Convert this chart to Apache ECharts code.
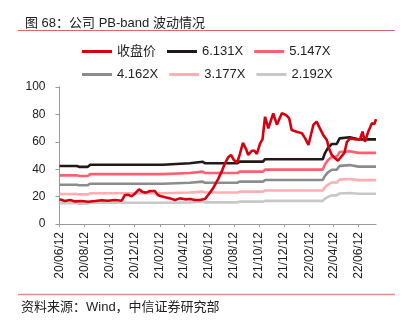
<!DOCTYPE html>
<html><head><meta charset="utf-8">
<script src="https://cdn.jsdelivr.net/npm/echarts@6/dist/echarts.min.js"></script>
<style>html,body{margin:0;padding:0;background:#fff}#c{width:406px;height:323px}</style>
</head><body><div id="c"></div>
<script>
const startDate = '2020-06-12';
const endDate = '2022-07-25';
const tickLabelDates = ['2020-06-12','2020-08-12','2020-10-12','2020-12-12','2021-02-12','2021-04-12','2021-06-12','2021-08-12','2021-10-12','2021-12-12','2022-02-12','2022-04-12','2022-06-12'];
const seriesNames = ['收盘价','6.131X','5.147X','4.162X','3.177X','2.192X'];

const priceDates = ['2020-06-12','2020-06-14','2020-06-25','2020-07-08','2020-07-20','2020-08-05','2020-08-21','2020-09-07','2020-09-23','2020-10-08','2020-10-26','2020-11-11','2020-11-19','2020-11-26','2020-12-05','2020-12-13','2020-12-23','2020-12-31','2021-01-09','2021-01-19','2021-01-31','2021-02-07','2021-02-13','2021-02-25','2021-03-09','2021-03-21','2021-04-02','2021-04-15','2021-04-27','2021-05-09','2021-05-21','2021-06-02','2021-06-10','2021-06-22','2021-07-04','2021-07-13','2021-07-21','2021-07-29','2021-08-05','2021-08-12','2021-08-20','2021-08-27','2021-09-03','2021-09-11','2021-09-16','2021-09-25','2021-10-01','2021-10-07','2021-10-15','2021-10-21','2021-10-27','2021-11-04','2021-11-16','2021-11-25','2021-12-07','2021-12-17','2021-12-25','2021-12-31','2022-01-12','2022-01-25','2022-02-02','2022-02-10','2022-02-22','2022-03-02','2022-03-10','2022-03-18','2022-03-27','2022-04-01','2022-04-08','2022-04-16','2022-04-23','2022-05-01','2022-05-09','2022-05-15','2022-05-23','2022-06-04','2022-06-16','2022-06-22','2022-06-28','2022-07-06','2022-07-15','2022-07-21','2022-07-25'];
const priceValues = [18.0,16.8,16.8,17.5,16.5,16.8,16.3,16.8,17.3,17.0,17.5,17.0,21.2,21.4,20.2,22.1,25.3,23.6,22.9,24.1,24.1,21.2,20.5,19.5,18.7,17.5,18.7,18.0,18.2,17.5,17.5,18.2,21.2,26.0,32.6,38.2,44.3,48.7,50.4,46.7,44.8,51.6,59.3,54.5,50.4,53.5,53.5,51.1,58.9,62.0,78.3,69.8,80.8,72.5,80.8,79.6,77.1,68.6,67.4,66.2,62.5,57.7,72.3,74.7,69.8,65.0,61.3,55.2,50.4,48.0,46.2,49.1,52.0,60.0,62.5,61.8,61.8,67.4,60.0,67.4,73.5,73.0,76.5];

const bandDates = ['2020-06-12','2020-07-25','2020-07-30','2020-08-20','2020-08-26','2021-02-19','2021-02-23','2021-04-26','2021-04-30','2021-05-28','2021-06-02','2021-08-20','2021-08-26','2021-10-22','2021-10-27','2022-03-17','2022-03-22','2022-03-29','2022-04-08','2022-04-20','2022-04-27','2022-05-22','2022-06-12','2022-07-25'];
const band6131 = [42.3,42.3,41.7,41.7,43.3,43.3,44.3,44.3,45.5,45.5,44.3,44.3,45.5,45.5,47.3,47.3,51.6,55.2,58.4,58.4,62.5,63.3,61.8,61.8];
const band5147 = [35.5,35.5,35.0,35.0,36.4,36.4,37.2,37.2,38.2,38.2,37.2,37.2,38.2,38.2,39.7,39.7,43.3,46.3,49.0,49.0,52.5,53.1,51.9,51.9];
const band4162 = [28.7,28.7,28.3,28.3,29.4,29.4,30.1,30.1,30.9,30.9,30.1,30.1,30.9,30.9,32.1,32.1,35.0,37.5,39.6,39.6,42.4,43.0,41.9,41.9];
const band3177 = [21.9,21.9,21.6,21.6,22.4,22.4,23.0,23.0,23.6,23.6,23.0,23.0,23.6,23.6,24.5,24.5,26.7,28.6,30.3,30.3,32.4,32.8,32.0,32.0];
const band2192 = [15.1,15.1,14.9,14.9,15.5,15.5,15.8,15.8,16.3,16.3,15.8,15.8,16.3,16.3,16.9,16.9,18.4,19.7,20.9,20.9,22.3,22.6,22.1,22.1];

// daily calendar categories for the x axis
const categories = [];
(function(){
  let d = new Date(startDate + 'T00:00:00Z');
  const e = new Date(endDate + 'T00:00:00Z');
  while (d <= e) { categories.push(d.toISOString().slice(0,10)); d = new Date(d.getTime() + 86400000); }
})();
const tickSet = new Set(tickLabelDates);
const pairs = (ds, vs) => ds.map((d, i) => [d, vs[i]]);

const font = '"Liberation Sans", Arial, "Noto Sans CJK SC", sans-serif';
const colors = ['#D7000F','#231815','#FF6070','#8C8C8C','#FFAFB4','#C8C8C8'];

const chart = echarts.init(document.getElementById('c'), null, {renderer:'canvas'});
const mk = (name, data, color, z) => ({
  name, type:'line', data, symbol:'none', z,
  lineStyle:{color, width:2.6}, itemStyle:{color}, animation:false
});
chart.setOption({
  animation:false,
  textStyle:{fontFamily:font},
  title:{text:'图 68：公司 PB-band 波动情况', left:20, top:12,
    textStyle:{fontSize:13, fontWeight:'normal', color:'#222', fontFamily:font}},
  graphic:[
    {type:'line', shape:{x1:18, y1:30.5, x2:395, y2:30.5}, style:{stroke:'#E06666', lineWidth:1.2}},
    {type:'line', shape:{x1:18, y1:294.5, x2:395, y2:294.5}, style:{stroke:'#E88A8A', lineWidth:1.5}},
    {type:'text', left:21, top:301, style:{text:'资料来源：Wind，中信证券研究部', fontSize:13, fill:'#222', fontFamily:font}}
  ],
  legend:[
    {data:seriesNames.slice(0,3), left:82, top:45, icon:'rect', itemWidth:30, itemHeight:3, itemGap:11, padding:0,
     textStyle:{fontSize:13, color:'#222', fontFamily:font}},
    {data:seriesNames.slice(3), left:82, top:68, icon:'rect', itemWidth:30, itemHeight:3, itemGap:11, padding:0,
     textStyle:{fontSize:13, color:'#222', fontFamily:font}}
  ],
  grid:{left:59.5, right:30, top:87, bottom:99},
  xAxis:{type:'category', data:categories, boundaryGap:false,
    axisLine:{lineStyle:{color:'#999', width:1}},
    axisTick:{show:true, length:3, interval:(i, v) => tickSet.has(v), lineStyle:{color:'#999'}},
    axisLabel:{rotate:90, interval:(i, v) => tickSet.has(v), margin:8, fontSize:12, color:'#222', fontFamily:font,
      formatter:v => v.slice(2).replace(/-/g,'/')},
    splitLine:{show:false}},
  yAxis:{type:'value', min:0, max:100, interval:20,
    axisLine:{show:true, lineStyle:{color:'#999'}},
    axisTick:{show:true, length:4, lineStyle:{color:'#999'}},
    axisLabel:{fontSize:12, color:'#222', margin:14, fontFamily:font},
    splitLine:{show:false}},
  series:[
    mk(seriesNames[5], pairs(bandDates, band2192), colors[5], 2),
    mk(seriesNames[4], pairs(bandDates, band3177), colors[4], 2),
    mk(seriesNames[3], pairs(bandDates, band4162), colors[3], 2),
    mk(seriesNames[2], pairs(bandDates, band5147), colors[2], 2),
    mk(seriesNames[1], pairs(bandDates, band6131), colors[1], 2),
    mk(seriesNames[0], pairs(priceDates, priceValues), colors[0], 3)
  ]
});
</script></body></html>
